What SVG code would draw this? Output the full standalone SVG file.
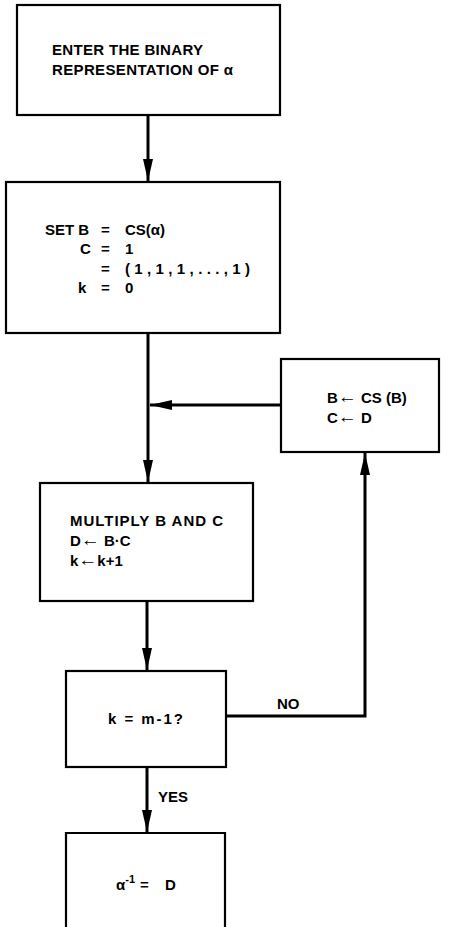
<svg xmlns="http://www.w3.org/2000/svg" width="455" height="927" viewBox="0 0 455 927">
<style>
.box{fill:#fff;stroke:#000;stroke-width:2.2}
.t{font-family:"Liberation Sans",Arial,sans-serif;font-size:15px;font-weight:bold;fill:#000}
.ar{font-size:19px}
.c{fill:none;stroke:#000;stroke-width:3}
</style>
<defs>
<marker id="ah" markerUnits="userSpaceOnUse" markerWidth="24" markerHeight="12" refX="22" refY="6" orient="auto">
<path d="M0,1 L22,6 L0,11 Z" fill="#000"/>
</marker>
</defs>
<rect width="455" height="927" fill="#fff"/>
<g id="connectors">
<line class="c" x1="148" y1="115" x2="148" y2="181" marker-end="url(#ah)"/>
<line class="c" x1="148" y1="333" x2="148" y2="482" marker-end="url(#ah)"/>
<line class="c" x1="281" y1="405" x2="150" y2="405" marker-end="url(#ah)"/>
<line class="c" x1="147" y1="601" x2="147" y2="670" marker-end="url(#ah)"/>
<line class="c" x1="147" y1="767" x2="147" y2="832" marker-end="url(#ah)"/>
<polyline class="c" points="226,716 365,716 365,453" marker-end="url(#ah)"/>
<text class="t" x="277" y="709">NO</text>
<text class="t" x="158" y="802">YES</text>
</g>
<g id="n1">
<rect class="box" x="17" y="5" width="263" height="110"/>
<text class="t" x="52" y="55" textLength="151">ENTER THE BINARY</text>
<text class="t" x="52" y="75" textLength="181">REPRESENTATION OF α</text>
</g>
<g id="n2">
<rect class="box" x="6" y="182" width="274" height="151"/>
<text class="t" x="45" y="235">SET B</text>
<text class="t" x="101" y="235">=</text>
<text class="t" x="125" y="235">CS(α)</text>
<text class="t" x="80" y="254">C</text>
<text class="t" x="101" y="254">=</text>
<text class="t" x="125" y="254">1</text>
<text class="t" x="101" y="274">=</text>
<text class="t" x="125" y="274" textLength="125">(1,1,1,...,1)</text>
<text class="t" x="78" y="293">k</text>
<text class="t" x="101" y="293">=</text>
<text class="t" x="125" y="293">0</text>
</g>
<g id="n3">
<rect class="box" x="40" y="483" width="213" height="118"/>
<text class="t" x="70" y="526" textLength="153">MULTIPLY B AND C</text>
<text class="t" x="70" y="546">D<tspan class="ar">←</tspan> B·C</text>
<text class="t" x="70" y="566">k<tspan class="ar">←</tspan>k+1</text>
</g>
<g id="n4">
<rect class="box" x="281" y="359" width="158" height="93"/>
<text class="t" x="327" y="403">B<tspan class="ar">←</tspan> CS (B)</text>
<text class="t" x="327" y="423">C<tspan class="ar">←</tspan> D</text>
</g>
<g id="n5">
<rect class="box" x="66" y="671" width="160" height="96"/>
<text class="t" x="108" y="724" textLength="75">k = m-1?</text>
</g>
<g id="n6">
<path class="box" d="M66,940 V833 H225 V940"/>
<text class="t" x="116" y="890">α<tspan dy="-7" font-size="11">-1</tspan><tspan dy="7" x="140">=</tspan><tspan x="165">D</tspan></text>
</g>
</svg>
